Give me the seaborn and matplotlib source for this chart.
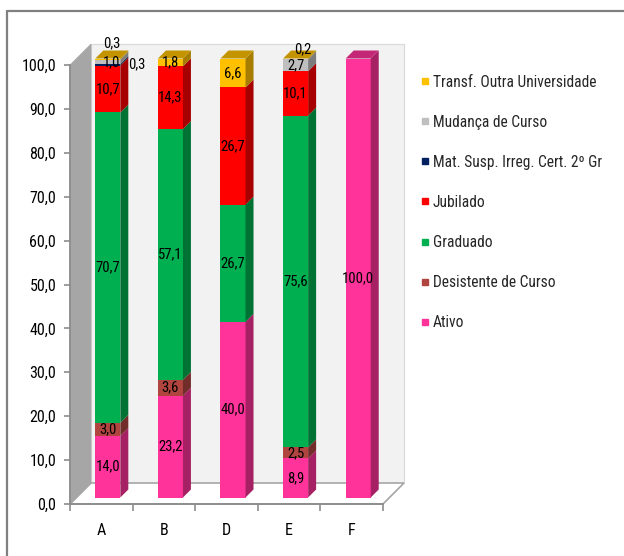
import numpy as np
import pandas as pd
import matplotlib
matplotlib.use("Agg")
import matplotlib.pyplot as plt
import seaborn as sns
import matplotlib.colors as mcolors
from matplotlib import font_manager
from matplotlib.patches import Polygon
from matplotlib.lines import Line2D
from matplotlib.transforms import ScaledTranslation, IdentityTransform

# ---------------- data ----------------
categories = ["A", "B", "D", "E", "F"]
series_names = ["Ativo", "Desistente de Curso", "Graduado", "Jubilado",
                "Mat. Susp. Irreg. Cert. 2º Gr", "Mudança de Curso",
                "Transf. Outra Universidade"]
ativo = [14.0, 23.2, 40.0, 8.9, 100.0]
desistente = [3.0, 3.6, 0.0, 2.5, 0.0]
graduado = [70.7, 57.1, 26.7, 75.6, 0.0]
jubilado = [10.7, 14.3, 26.7, 10.1, 0.0]
mat_susp = [0.3, 0.0, 0.0, 0.0, 0.0]
mudanca = [1.0, 0.0, 0.0, 2.7, 0.0]
transf = [0.3, 1.8, 6.6, 0.2, 0.0]
series_values = [ativo, desistente, graduado, jubilado, mat_susp, mudanca, transf]
yticks = [0, 10, 20, 30, 40, 50, 60, 70, 80, 90, 100]

# ---------------- style ----------------
colors = ["#ff3399", "#b0443f", "#00b050", "#ff0000", "#002060", "#bfbfbf", "#ffc000"]
# manual nudges (pixels) for small labels
label_nudge = {(0, 6): (4, 16), (0, 4): (29, 1), (0, 5): (4, 0), (3, 6): (7, 10)}

sns.set_theme(style="white")
installed = {f.name for f in font_manager.fontManager.ttflist}
narrow = None
for cand in ["Liberation Sans Narrow", "Roboto Condensed", "Open Sans Condensed"]:
    if cand in installed:
        narrow = cand
        break
if narrow:
    plt.rcParams["font.family"] = [narrow, "DejaVu Sans"]
    fs_tick, fs_leg, fs_lab = 11.5, 11.2, 10.5
else:
    plt.rcParams["font.family"] = ["Liberation Sans", "DejaVu Sans"]
    fs_tick, fs_leg, fs_lab = 10.3, 9.8, 9

W, H, DPI = 624, 556, 100
fig = plt.figure(figsize=(W / DPI, H / DPI), dpi=DPI)
ax = fig.add_axes([70 / W, 52 / H, 313 / W, 439 / H])
ax.patch.set_visible(False)

shift = 6.5   # front-face shift (px)
depth = 8     # bar depth (px)
wall = 21     # wall depth (px)

bottoms = np.zeros(len(categories))
records = []
for si, (name, vals, col) in enumerate(zip(series_names, series_values, colors)):
    df = pd.DataFrame({"cat": categories, "val": vals})
    n0 = len(ax.patches)
    sns.barplot(data=df, x="cat", y="val", order=categories, color=col,
                saturation=1, width=0.4, errorbar=None, bottom=bottoms.copy(),
                linewidth=0, edgecolor="none", ax=ax)
    for ci, p in enumerate(ax.patches[n0:]):
        records.append((si, ci, p, col))
    bottoms = bottoms + np.array(vals)

ax.set_xlim(-0.5, len(categories) - 0.5)
ax.set_ylim(0, 100)

off = ScaledTranslation(shift / DPI, shift / DPI, fig.dpi_scale_trans)
front = ax.transData + off
ident = IdentityTransform()

def darker(c, f):
    r, g, b = mcolors.to_rgb(c)
    return (r * f, g * f, b * f)

# ---------- walls and floor ----------
x0p, y0p = ax.transAxes.transform((0, 0))
x1p, y1p = ax.transAxes.transform((1, 1))
back = Polygon([(x0p + wall, y0p + wall), (x1p + wall, y0p + wall),
                (x1p + wall, y1p + wall), (x0p + wall, y1p + wall)],
               closed=True, transform=ident, facecolor="#f2f2f2",
               edgecolor="#d9d9d9", lw=0.8, zorder=0, clip_on=False)
leftw = Polygon([(x0p, y0p), (x0p, y1p), (x0p + wall, y1p + wall), (x0p + wall, y0p + wall)],
                closed=True, transform=ident, facecolor="#a6a6a6",
                edgecolor="#a6a6a6", lw=0.5, zorder=0.2, clip_on=False)
floor = Polygon([(x0p, y0p), (x1p, y0p), (x1p + wall, y0p + wall), (x0p + wall, y0p + wall)],
                closed=True, transform=ident, facecolor="white",
                edgecolor="#a6a6a6", lw=1.2, zorder=0.1, clip_on=False)
for pp in (back, floor, leftw):
    ax.add_patch(pp)

# ---------- 3D bars ----------
top_seg = {}
for si, ci, p, col in records:
    if p.get_height() > 0:
        top_seg[ci] = (si, p, col)

for si, ci, p, col in records:
    p.set_transform(front)
    p.set_clip_on(False)
    p.set_zorder(2)
    h = p.get_height()
    if h <= 0:
        p.set_visible(False)
        continue
    xa, ya = p.get_x(), p.get_y()
    w = p.get_width()
    X1, Y0 = front.transform((xa + w, ya))
    _, Y1 = front.transform((xa + w, ya + h))
    side = Polygon([(X1, Y0), (X1, Y1), (X1 + depth, Y1 + depth), (X1 + depth, Y0 + depth)],
                   closed=True, transform=ident, facecolor=darker(col, 0.65),
                   edgecolor="none", zorder=2, clip_on=False)
    ax.add_patch(side)

for ci, (si, p, col) in top_seg.items():
    xa, w = p.get_x(), p.get_width()
    yt = p.get_y() + p.get_height()
    X0, Y1 = front.transform((xa, yt))
    X1, _ = front.transform((xa + w, yt))
    topf = Polygon([(X0, Y1), (X1, Y1), (X1 + depth, Y1 + depth), (X0 + depth, Y1 + depth)],
                   closed=True, transform=ident, facecolor=darker(col, 0.77),
                   edgecolor="none", zorder=2.1, clip_on=False)
    ax.add_patch(topf)

# ---------- labels ----------
for si, ci, p, col in records:
    h = p.get_height()
    if h <= 0:
        continue
    cx = p.get_x() + p.get_width() / 2
    cy = p.get_y() + h / 2
    dx, dy = label_nudge.get((ci, si), (0, 0))
    tr = front + ScaledTranslation(dx / DPI, dy / DPI, fig.dpi_scale_trans)
    ax.text(cx, cy, f"{h:.1f}".replace(".", ","), transform=tr, ha="center",
            va="center", fontsize=fs_lab, color="black", zorder=5, clip_on=False)

# ---------- axes ----------
for s in ("top", "right"):
    ax.spines[s].set_visible(False)
for s in ("left", "bottom"):
    ax.spines[s].set_color("#8c8c8c")
    ax.spines[s].set_linewidth(1.3)
    ax.spines[s].set_zorder(1)
ax.set_yticks(yticks)
ax.set_yticklabels([f"{v:.1f}".replace(".", ",") for v in yticks])
ax.tick_params(axis="y", left=True, length=4, width=1.2, color="#8c8c8c",
               pad=6, labelsize=fs_tick, labelcolor="black")
ax.set_xticks(range(len(categories)))
ax.set_xticklabels(categories)
ax.set_xticks(np.arange(-0.5, len(categories)), minor=True)
ax.tick_params(axis="x", which="major", bottom=False, length=0, pad=14,
               labelsize=fs_tick, labelcolor="black")
ax.tick_params(axis="x", which="minor", bottom=True, length=5, width=1.2,
               color="#8c8c8c")
ax.set_xlabel("")
ax.set_ylabel("")

# ---------- legend ----------
handles = [Line2D([0], [0], marker="s", linestyle="none", markersize=4.5,
                  markerfacecolor=c, markeredgecolor=c) for c in colors]
leg = fig.legend(handles[::-1], series_names[::-1], loc="upper left",
                 bbox_to_anchor=(421 / W, 1 - 74.8 / H), frameon=False,
                 fontsize=fs_leg, handlelength=0.55, handletextpad=0.2,
                 labelspacing=1.61, borderpad=0, borderaxespad=0)

# ---------- outer frame ----------
fig.add_artist(Line2D([7 / W, 1], [1 - 11 / H, 1 - 11 / H], transform=fig.transFigure,
                      color="#808080", lw=1.6))
fig.add_artist(Line2D([7 / W, 7 / W], [0, 1 - 11 / H], transform=fig.transFigure,
                      color="#808080", lw=1.6))

fig.savefig("out.png", dpi=DPI)
